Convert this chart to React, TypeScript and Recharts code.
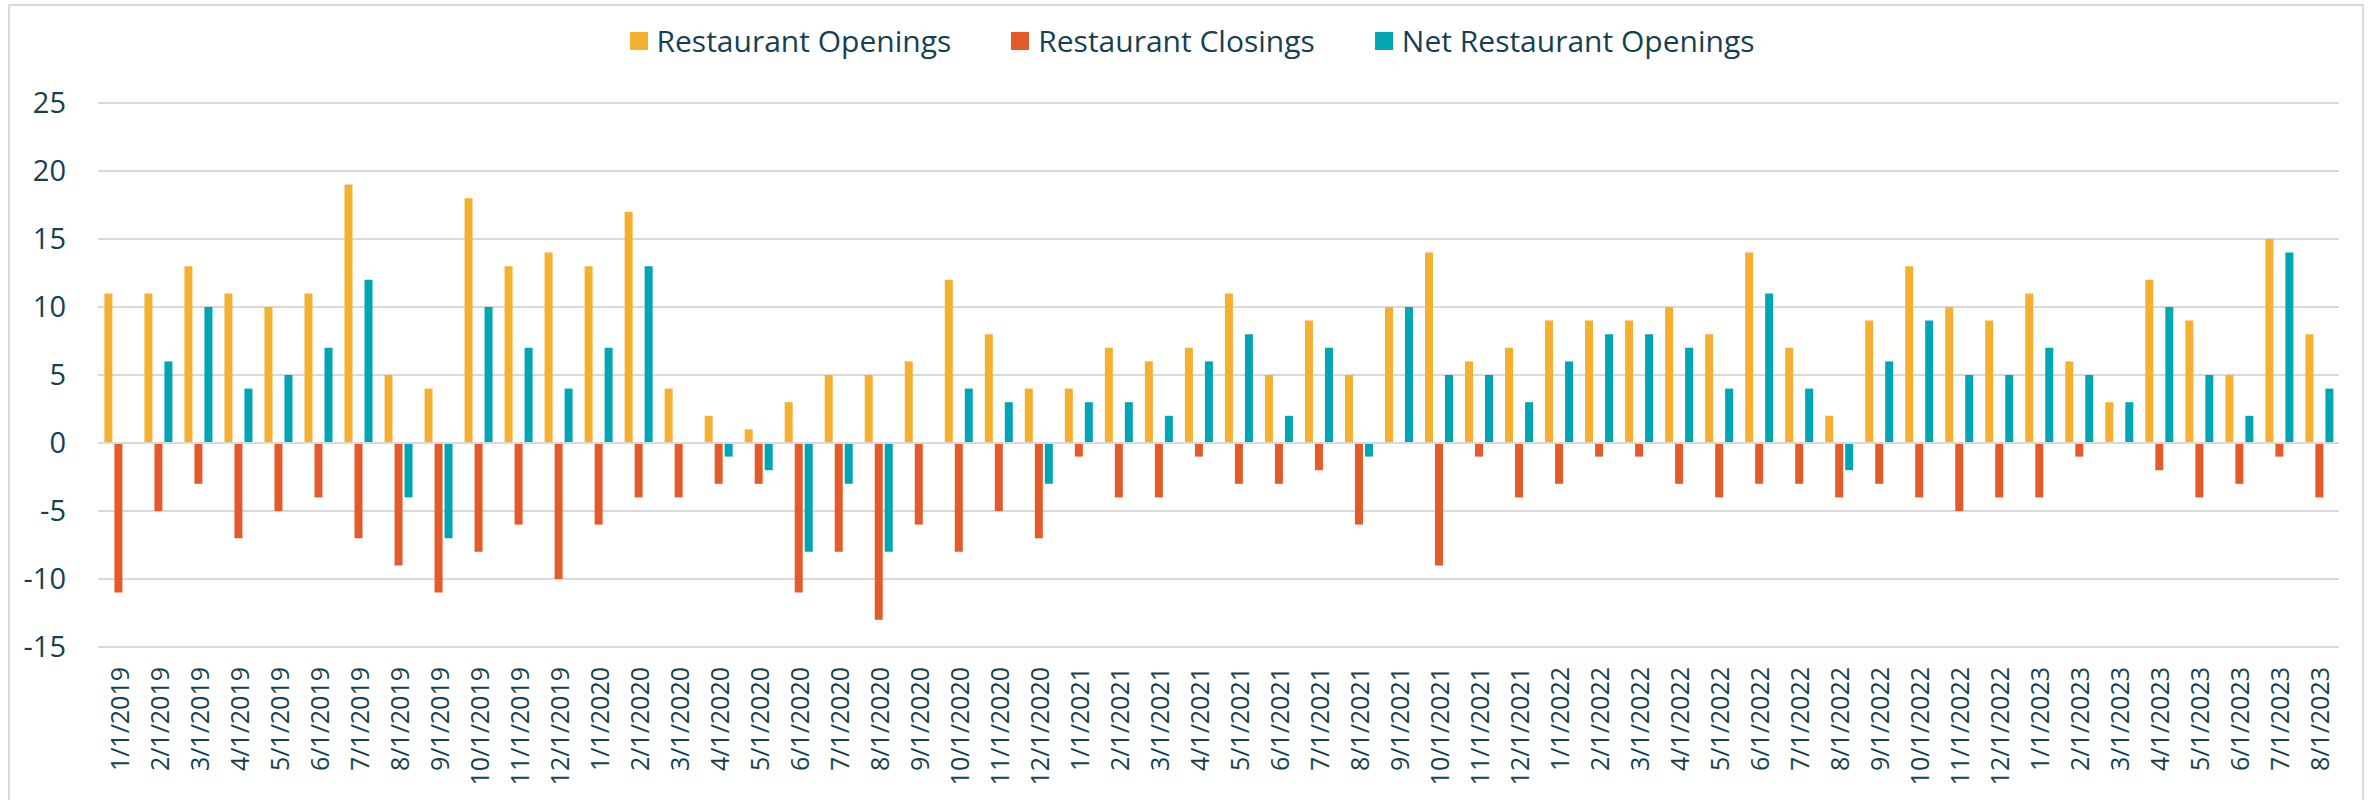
import React from 'react';
import { BarChart, Bar, XAxis, YAxis, CartesianGrid, ReferenceLine } from 'recharts';

const months = [
  '1/1/2019', '2/1/2019', '3/1/2019', '4/1/2019', '5/1/2019', '6/1/2019', '7/1/2019', '8/1/2019',
  '9/1/2019', '10/1/2019', '11/1/2019', '12/1/2019', '1/1/2020', '2/1/2020', '3/1/2020', '4/1/2020',
  '5/1/2020', '6/1/2020', '7/1/2020', '8/1/2020', '9/1/2020', '10/1/2020', '11/1/2020', '12/1/2020',
  '1/1/2021', '2/1/2021', '3/1/2021', '4/1/2021', '5/1/2021', '6/1/2021', '7/1/2021', '8/1/2021',
  '9/1/2021', '10/1/2021', '11/1/2021', '12/1/2021', '1/1/2022', '2/1/2022', '3/1/2022', '4/1/2022',
  '5/1/2022', '6/1/2022', '7/1/2022', '8/1/2022', '9/1/2022', '10/1/2022', '11/1/2022', '12/1/2022',
  '1/1/2023', '2/1/2023', '3/1/2023', '4/1/2023', '5/1/2023', '6/1/2023', '7/1/2023', '8/1/2023',
];

const openings = [
  11, 11, 13, 11, 10, 11, 19, 5, 4, 18, 13, 14, 13, 17, 4, 2,
  1, 3, 5, 5, 6, 12, 8, 4, 4, 7, 6, 7, 11, 5, 9, 5,
  10, 14, 6, 7, 9, 9, 9, 10, 8, 14, 7, 2, 9, 13, 10, 9,
  11, 6, 3, 12, 9, 5, 15, 8,
];

const closings = [
  -11, -5, -3, -7, -5, -4, -7, -9, -11, -8, -6, -10, -6, -4, -4, -3,
  -3, -11, -8, -13, -6, -8, -5, -7, -1, -4, -4, -1, -3, -3, -2, -6,
  0, -9, -1, -4, -3, -1, -1, -3, -4, -3, -3, -4, -3, -4, -5, -4,
  -4, -1, 0, -2, -4, -3, -1, -4,
];

const net = [
  0, 6, 10, 4, 5, 7, 12, -4, -7, 10, 7, 4, 7, 13, 0, -1,
  -2, -8, -3, -8, 0, 4, 3, -3, 3, 3, 2, 6, 8, 2, 7, -1,
  10, 5, 5, 3, 6, 8, 8, 7, 4, 11, 4, -2, 6, 9, 5, 5,
  7, 5, 3, 10, 5, 2, 14, 4,
];

const yTicks = [-15, -10, -5, 0, 5, 10, 15, 20, 25];

const series = [
  { key: 'openings', name: 'Restaurant Openings', color: '#F4B130' },
  { key: 'closings', name: 'Restaurant Closings', color: '#E45A2A' },
  { key: 'net', name: 'Net Restaurant Openings', color: '#00A6B4' },
];

const data = months.map((month, i) => ({
  month,
  openings: openings[i],
  closings: closings[i],
  net: net[i],
}));

const TEXT = '#163f52';
const FONT = '"Open Sans", sans-serif';

const MonthTick = (props: any) => {
  const { x, y, payload } = props;
  return (
    <text
      x={x}
      y={y}
      dy="0.42em"
      transform={`rotate(-90, ${x}, ${y})`}
      textAnchor="end"
      fill={TEXT}
      fontSize={25}
      fontFamily={FONT}
    >
      {payload.value}
    </text>
  );
};

export default function App() {
  return (
    <div style={{ position: 'absolute', left: 0, top: 0, width: 2371, height: 800, overflow: 'hidden', background: '#fff' }}>
      <div
        style={{
          position: 'absolute',
          left: 8,
          top: 4,
          width: 2352,
          height: 820,
          border: '2px solid #d9d9d9',
        }}
      />
      <div
        style={{
          position: 'absolute',
          left: 0,
          top: 20,
          width: 2384,
          display: 'flex',
          justifyContent: 'center',
          fontFamily: FONT,
          fontSize: 30,
          color: TEXT,
        }}
      >
        {series.map((s, i) => (
          <div key={s.key} style={{ display: 'flex', alignItems: 'center', marginLeft: i === 0 ? 0 : 60 }}>
            <span style={{ width: 18, height: 18, background: s.color, display: 'inline-block', marginRight: 9 }} />
            <span>{s.name}</span>
          </div>
        ))}
      </div>
      <div style={{ position: 'absolute', left: 0, top: 0 }}>
        <BarChart
          width={2371}
          height={800}
          data={data}
          margin={{ top: 103, right: 32, bottom: 0, left: 0 }}
          barCategoryGap="16%"
          barGap={2}
        >
          <CartesianGrid vertical={false} stroke="#d9d9d9" strokeWidth={2} />
          <XAxis
            dataKey="month"
            interval={0}
            axisLine={false}
            tickLine={false}
            tickSize={0}
            tickMargin={20}
            height={153}
            tick={<MonthTick />}
          />
          <YAxis
            domain={[-15, 25]}
            ticks={yTicks}
            width={98}
            axisLine={false}
            tickLine={false}
            tickSize={0}
            tickMargin={32}
            tick={{ fill: TEXT, fontSize: 29, fontFamily: FONT }}
          />
          <ReferenceLine y={0} stroke="#d9d9d9" strokeWidth={2} />
          {series.map((s) => (
            <Bar key={s.key} dataKey={s.key} name={s.name} fill={s.color} isAnimationActive={false} />
          ))}
        </BarChart>
      </div>
    </div>
  );
}
